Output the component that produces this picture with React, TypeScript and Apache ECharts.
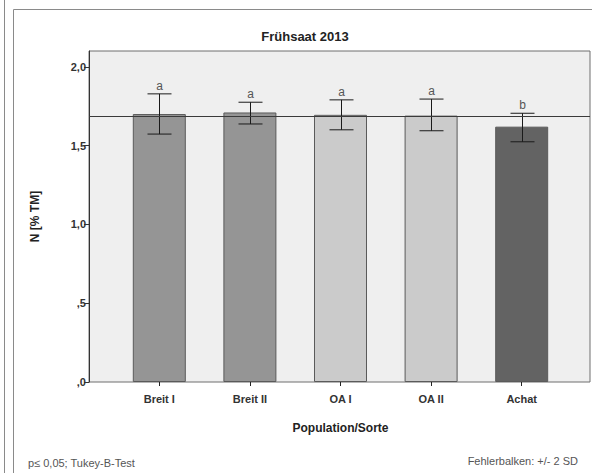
import React, { useEffect, useRef } from "react";
import * as echarts from "echarts";

const categories = ["Breit I", "Breit II", "OA I", "OA II", "Achat"];
const means = [1.7, 1.71, 1.695, 1.69, 1.62];
const errLow = [1.573, 1.637, 1.6, 1.594, 1.524];
const errHigh = [1.828, 1.775, 1.79, 1.795, 1.705];
const letters = ["a", "a", "a", "a", "b"];
const barColors = ["#959595", "#959595", "#cbcbcb", "#cbcbcb", "#636363"];
const refValue = 1.686;
const yTickValues = [0, 0.5, 1, 1.5, 2];
const yTickLabels = [",0", ",5", "1,0", "1,5", "2,0"];
const titleText = "Frühsaat 2013";
const yName = "N [% TM]";
const xName = "Population/Sorte";
const noteLeft = "p≤ 0,05; Tukey-B-Test";
const noteRight = "Fehlerbalken: +/- 2 SD";

const FONT = "'Liberation Sans', Arial, sans-serif";

export default function App() {
  const ref = useRef<HTMLDivElement>(null);
  useEffect(() => {
    document.body.style.margin = "0";
    const chart = echarts.init(ref.current!, null, { renderer: "svg" });
    const grid0 = { left: 89, right: 2, top: 51, bottom: 91 };
    const grid1 = { left: 114, right: 25, top: 51, bottom: 91 };
    const option: any = {
      animation: false,
      backgroundColor: "#ffffff",
      textStyle: { fontFamily: FONT },
      grid: [
        {
          ...grid0,
          show: true,
          backgroundColor: "#efefef",
          borderColor: "#6f6f6f",
          borderWidth: 1,
        },
        { ...grid1 },
      ],
      xAxis: [
        {
          gridIndex: 0,
          type: "category",
          data: categories,
          show: false,
        },
        {
          gridIndex: 1,
          type: "category",
          data: categories,
          axisLine: { show: false },
          axisTick: {
            show: true,
            alignWithLabel: true,
            length: 4,
            lineStyle: { color: "#222" },
          },
          axisLabel: {
            fontFamily: FONT,
            fontSize: 11,
            fontWeight: "bold",
            color: "#333",
            margin: 11,
          },
          name: xName,
          nameLocation: "middle",
          nameGap: 40,
          nameTextStyle: {
            fontFamily: FONT,
            fontSize: 12,
            fontWeight: "bold",
            color: "#222",
          },
        },
      ],
      yAxis: [
        {
          gridIndex: 0,
          type: "value",
          min: 0,
          max: 2.1,
          axisLine: { show: true, lineStyle: { color: "#333" } },
          axisTick: {
            show: true,
            length: 5,
            customValues: yTickValues,
            lineStyle: { color: "#333" },
          },
          axisLabel: {
            customValues: yTickValues,
            fontFamily: FONT,
            fontSize: 11,
            fontWeight: "bold",
            color: "#333",
            margin: 3,
            formatter: (v: number) => {
              const i = yTickValues.findIndex((t) => Math.abs(t - v) < 1e-6);
              return i >= 0 ? yTickLabels[i] : "";
            },
          },
          splitLine: { show: false },
          name: yName,
          nameLocation: "middle",
          nameGap: 48,
          nameTextStyle: {
            fontFamily: FONT,
            fontSize: 12,
            fontWeight: "bold",
            color: "#222",
          },
        },
        {
          gridIndex: 1,
          type: "value",
          min: 0,
          max: 2.1,
          show: false,
          splitLine: { show: false },
        },
      ],
      series: [
        {
          type: "bar",
          xAxisIndex: 1,
          yAxisIndex: 1,
          barWidth: 53,
          data: means.map((v, i) => ({
            value: v,
            itemStyle: {
              color: barColors[i],
              borderColor: "#5a5a5a",
              borderWidth: 1,
            },
          })),
          z: 2,
        },
        {
          type: "custom",
          xAxisIndex: 1,
          yAxisIndex: 1,
          z: 5,
          data: categories.map((c, i) => [i, errLow[i], errHigh[i], means[i]]),
          renderItem: (params: any, api: any) => {
            const i = api.value(0);
            const lo = api.coord([i, api.value(1)]);
            const hi = api.coord([i, api.value(2)]);
            const x = Math.round(lo[0]) + 0.5;
            const half = 12;
            const style = { stroke: "#1a1a1a", lineWidth: 1 };
            return {
              type: "group",
              children: [
                { type: "line", shape: { x1: x, y1: lo[1], x2: x, y2: hi[1] }, style },
                { type: "line", shape: { x1: x - half, y1: hi[1], x2: x + half, y2: hi[1] }, style },
                { type: "line", shape: { x1: x - half, y1: lo[1], x2: x + half, y2: lo[1] }, style },
                {
                  type: "text",
                  style: {
                    text: letters[params.dataIndex],
                    x: x,
                    y: hi[1] - 8,
                    align: "center",
                    verticalAlign: "middle",
                    fontFamily: FONT,
                    fontSize: 12,
                    fill: "#555",
                  },
                },
              ],
            };
          },
        },
        {
          type: "custom",
          xAxisIndex: 0,
          yAxisIndex: 0,
          z: 6,
          data: [[0, refValue]],
          renderItem: (params: any, api: any) => {
            const cs = params.coordSys;
            const y = Math.round(api.coord([0, api.value(1)])[1]) + 0.5;
            return {
              type: "line",
              shape: { x1: cs.x, y1: y, x2: cs.x + cs.width, y2: y },
              style: { stroke: "#3a3a3a", lineWidth: 1 },
            };
          },
        },
      ],
      graphic: [
        {
          type: "line",
          shape: { x1: 4.5, y1: 0, x2: 4.5, y2: 473 },
          style: { stroke: "#8a8a8a", lineWidth: 1 },
        },
        {
          type: "rect",
          shape: { x: 13.5, y: 9.5, width: 620, height: 500 },
          style: { fill: "none", stroke: "#8a8a8a", lineWidth: 1 },
        },
        {
          type: "text",
          x: 305,
          y: 36,
          style: {
            text: titleText,
            align: "center",
            verticalAlign: "middle",
            fontFamily: FONT,
            fontSize: 13,
            fontWeight: "bold",
            fill: "#222",
          },
        },
        {
          type: "text",
          x: 28,
          y: 463,
          style: {
            text: noteLeft,
            align: "left",
            verticalAlign: "middle",
            fontFamily: FONT,
            fontSize: 11,
            fill: "#555",
          },
        },
        {
          type: "text",
          x: 578,
          y: 461,
          style: {
            text: noteRight,
            align: "right",
            verticalAlign: "middle",
            fontFamily: FONT,
            fontSize: 11,
            fill: "#555",
          },
        },
      ],
    };
    chart.setOption(option);
    return () => chart.dispose();
  }, []);
  return <div ref={ref} style={{ width: 592, height: 473 }} />;
}
